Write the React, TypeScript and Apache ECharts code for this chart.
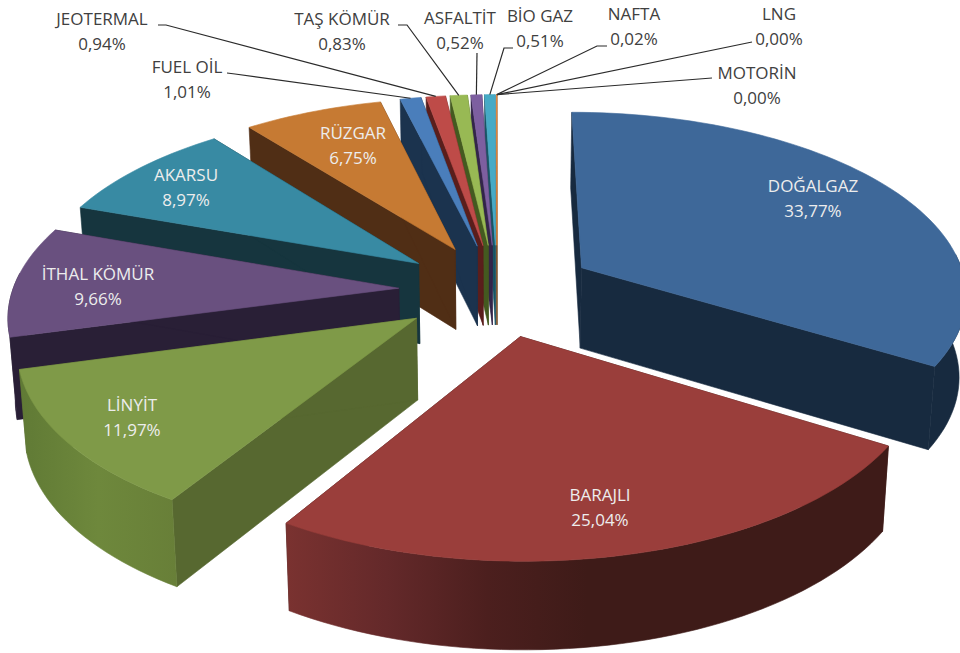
import React, { useEffect, useRef } from "react";
import * as echarts from "echarts";

const names = ["DOĞALGAZ","BARAJLI","LİNYİT","İTHAL KÖMÜR","AKARSU","RÜZGAR","FUEL OİL","JEOTERMAL","TAŞ KÖMÜR","ASFALTİT","BİO GAZ","NAFTA","LNG","MOTORİN"];
const values = [33.77,25.04,11.97,9.66,8.97,6.75,1.01,0.94,0.83,0.52,0.51,0.02,0.0,0.0];

const topColors = ["#3E6899","#9A3E3B","#7F9A48","#69507F","#388AA3","#C67A33","#4A7EBB","#BE4B48","#98B954","#7D5FA0","#46AAC5","#F79646","#2C4D75","#772C2A"];
const cutColors = ["#172A3F","#3E1B18","#576830","#291F36","#16353E","#502E15","#1B334E","#5A1E1C","#445A20","#33254A","#1A5464","#6A3A10","#172A3F","#3E1B18"];
const rimStops: string[][] = [
  ["#172A3F","#172A3F"],["#7A3230","#64292A","#4C1F1E","#3E1B18","#3E1B18","#3E1B18","#3E1B18"],["#607A35","#6E883C","#687F38"],["#291F36","#291F36"],["#16353E","#16353E"],["#502E15","#502E15"],
  ["#1B334E","#1B334E"],["#5A1E1C","#5A1E1C"],["#445A20","#445A20"],["#33254A","#33254A"],["#1A5464","#1A5464"],["#6A3A10","#6A3A10"],["#172A3F","#172A3F"],["#3E1B18","#3E1B18"],
];
// label centre and leader-line start/elbow (null: label sits on the slice)
const labelPos: number[][] = [[813,198],[600,507],[132,417],[98,286],[186,187],[353,145],[187,79],[102,31],[342,31],[460,30],[540,28],[634,26],[779,26],[757,85]];
const leaderPts: (number[][] | null)[] = [null,null,null,null,null,null,
  [[227,73],[235,74]],[[158,25],[166,25]],[[398,25],[407,25]],[[477,53]],[[513,48],[504,48]],[[607,46],[597,46]],[[752,42]],[[712,78]]];
const lightLabels = 6;

const CX = 497, CY = 290, A = 386, B = 181.5, K = 0.132, H = 81, EXPLODE = 0.255, BOTTOM_X = 0.985, FRONT_COS = 0.1;

const total = values.reduce((a, b) => a + b, 0);
const starts: number[] = [];
values.reduce((acc, v, i) => { starts[i] = acc; return acc + v; }, 0);
const angleOf = (share: number) => (share / total) * Math.PI * 2;

function project(X: number, Y: number, z: number): number[] {
  const D = 1 + K * Y;
  return [CX + (A * X / D) * (z ? BOTTOM_X : 1), CY - B * Y / D + z * H / Math.sqrt(D)];
}
function slicePoints(i: number) {
  const a0 = angleOf(starts[i]);
  const a1 = angleOf(starts[i] + values[i]);
  const mid = (a0 + a1) / 2;
  const ox = Math.sin(mid) * EXPLODE, oy = Math.cos(mid) * EXPLODE;
  const n = Math.max(2, Math.ceil((a1 - a0) / 0.03));
  const angles: number[] = [];
  for (let s = 0; s <= n; s++) angles.push(a0 + ((a1 - a0) * s) / n);
  const rim = (z: number, list: number[]) => list.map((a) => project(ox + Math.sin(a), oy + Math.cos(a), z));
  const front = angles.filter((a) => Math.cos(a) < FRONT_COS);
  return {
    apexT: project(ox, oy, 0), apexB: project(ox, oy, 1), rimT: rim(0, angles), rimB: rim(1, angles),
    frontT: rim(0, front), frontB: rim(1, front), ox, oy, mid,
  };
}

const drawOrder = values.map((_, i) => i).sort((p, q) => {
  const my = (i: number) => Math.cos(angleOf(starts[i] + values[i] / 2));
  return my(q) - my(p);
});

function renderSlice(_: any, api: any) {
  const i = api.value(0) as number;
  if (!values[i]) return { type: "group", children: [] };
  const s = slicePoints(i);
  const poly = (points: number[][], fill: any) => ({
    type: "polygon", silent: true, shape: { points }, style: { fill, stroke: fill, lineWidth: 0.6 },
  });
  const stops = rimStops[i].map((color, k, arr) => ({ offset: k / (arr.length - 1), color }));
  const grad = new echarts.graphic.LinearGradient(0, 0, 1, 0, stops);
  const lastT = s.rimT[s.rimT.length - 1], lastB = s.rimB[s.rimB.length - 1];
  const children: any[] = [
    poly([s.apexT, s.rimT[0], s.rimB[0], s.apexB], cutColors[i]),
    poly([s.apexT, lastT, lastB, s.apexB], cutColors[i]),
  ];
  if (s.frontT.length > 1) children.push(poly([...s.frontT, ...s.frontB.slice().reverse()], grad));
  children.push(poly([s.apexT, ...s.rimT], topColors[i]));
  return { type: "group", children };
}

const pct = (v: number) => v.toFixed(2).replace(".", ",") + "%";

function renderLabel(_: any, api: any) {
  const i = api.value(0) as number;
  const [x, y] = labelPos[i];
  const children: any[] = [];
  const lead = leaderPts[i];
  if (lead) {
    const s = slicePoints(i);
    const a = angleOf(starts[i] + values[i] / 2);
    const end = values[i]
      ? project(s.ox + Math.sin(a), s.oy + Math.cos(a), 0)
      : project(Math.sin(a) * (1 + EXPLODE), Math.cos(a) * (1 + EXPLODE), 0);
    children.push({
      type: "polyline", silent: true, shape: { points: [...lead, end] },
      style: { fill: "none", stroke: "#2b2b2b", lineWidth: 1.2 },
    });
  }
  children.push({
    type: "text", silent: true, x, y,
    style: {
      text: names[i] + "\n" + pct(values[i]), align: "center", verticalAlign: "middle",
      fill: i < lightLabels ? "#EDEDED" : "#404040", font: "17px 'Open Sans', sans-serif", lineHeight: 25,
    },
  });
  return { type: "group", children };
}

export default function App() {
  const ref = useRef<HTMLDivElement>(null);
  useEffect(() => {
    const chart = echarts.init(ref.current!, null, { renderer: "svg" });
    chart.setOption({
      animation: false,
      backgroundColor: "#ffffff",
      series: [
        { type: "custom", coordinateSystem: "none", silent: true, z: 2, clip: false, renderItem: renderSlice, data: drawOrder.map((i) => [i, values[i]]) },
        { type: "custom", coordinateSystem: "none", silent: true, z: 3, clip: false, renderItem: renderLabel, data: values.map((v, i) => [i, v]) },
      ],
    });
    return () => chart.dispose();
  }, []);
  return <div ref={ref} style={{ position: "absolute", left: 0, top: 0, width: 960, height: 653 }} />;
}
